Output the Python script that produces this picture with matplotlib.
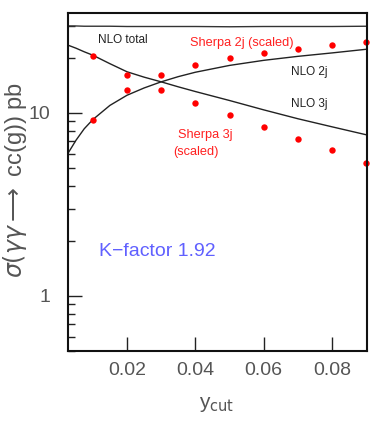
import matplotlib
matplotlib.use("Agg")
import matplotlib.pyplot as plt
import numpy as np

# NLO curves
nlo_x = [0.0027, 0.0051, 0.0075, 0.01, 0.015, 0.02, 0.025, 0.03, 0.035, 0.04,
         0.05, 0.06, 0.07, 0.08, 0.09]
nlo_total = [29.9, 29.9, 29.8, 29.8, 29.8, 29.7, 29.7, 29.7, 29.7, 29.7,
             29.6, 29.7, 29.7, 29.7, 29.8]
nlo_2j = [6.0, 7.1, 8.2, 9.2, 11.0, 12.5, 13.7, 14.8, 15.8, 16.7,
          18.2, 19.4, 20.4, 21.3, 22.3]
nlo_3j = [23.5, 22.6, 21.6, 20.7, 18.6, 16.8, 15.7, 14.8, 13.9, 13.1,
          11.7, 10.4, 9.3, 8.4, 7.6]

# Sherpa points (scaled)
sherpa_x = [0.01, 0.02, 0.03, 0.04, 0.05, 0.06, 0.07, 0.08, 0.09]
sherpa_2j = [9.1, 13.4, 16.2, 18.4, 19.9, 21.4, 22.5, 23.5, 24.3]
sherpa_3j = [20.6, 16.2, 13.4, 11.3, 9.7, 8.4, 7.2, 6.25, 5.35]

xticks = [0.02, 0.04, 0.06, 0.08]
xtick_labels = ["0.02", "0.04", "0.06", "0.08"]

plt.rcParams['font.family'] = ['Liberation Sans', 'DejaVu Sans']

fig = plt.figure(figsize=(3.86, 4.21), dpi=100)
ax = fig.add_axes([68 / 386, 1 - 351 / 421, 299 / 386, 338 / 421])

ax.plot(nlo_x, nlo_total, color='#333333', lw=1.0)
ax.plot(nlo_x, nlo_2j, color='#222222', lw=1.0)
ax.plot(nlo_x, nlo_3j, color='#222222', lw=1.0)
ax.plot(sherpa_x, sherpa_2j, 'o', color='#ff0000', ms=4.6, mec='none', clip_on=False)
ax.plot(sherpa_x, sherpa_3j, 'o', color='#ff0000', ms=4.6, mec='none', clip_on=False)

ax.set_yscale('log')
ax.set_xlim(0.00275, 0.0902)
ax.set_ylim(0.5, 35.2)

ax.set_xticks(xticks)
ax.set_xticklabels(xtick_labels)
ax.set_yticks([1, 10])
ax.set_yticklabels(["1", "10"])
ax.tick_params(axis='both', which='major', direction='in', length=10, width=1,
               labelsize=14, labelcolor='#555555', color='#222222')
ax.tick_params(axis='both', which='minor', direction='in', length=5, width=1,
               color='#222222')
ax.tick_params(axis='x', which='minor', bottom=False)
ax.tick_params(axis='x', pad=8)
ax.tick_params(axis='y', pad=13)
for s in ax.spines.values():
    s.set_linewidth(1.5)
    s.set_color('#111111')

ax.text(0.0188, 25.1, "NLO total", fontsize=8.5, color='#222222', ha='center', va='center')
ax.text(0.0536, 24.1, "Sherpa 2j (scaled)", fontsize=9.2, color='#ff2020', ha='center', va='center')
ax.text(0.0734, 16.7, "NLO 2j", fontsize=8.5, color='#222222', ha='center', va='center')
ax.text(0.0734, 11.2, "NLO 3j", fontsize=8.5, color='#222222', ha='center', va='center')
ax.text(0.0428, 7.59, "Sherpa 3j", fontsize=9.2, color='#ff2020', ha='center', va='center')
ax.text(0.0401, 6.12, "(scaled)", fontsize=9.2, color='#ff2020', ha='center', va='center')
ax.text(0.029, 1.76, "K\u2212factor 1.92", fontsize=14, color='#6060ff', ha='center', va='center')

fig.text(15 / 386, 1 - 180 / 421, r"$\sigma(\gamma\gamma \longrightarrow$ cc(g)) pb",
         rotation=90, ha='center', va='center', fontsize=17, color='#555555')
fig.text(217 / 386, 1 - 405 / 421, r"y$_{\rm cut}$", ha='center', va='center',
         fontsize=15, color='#555555')

fig.savefig("out.png", dpi=100)
